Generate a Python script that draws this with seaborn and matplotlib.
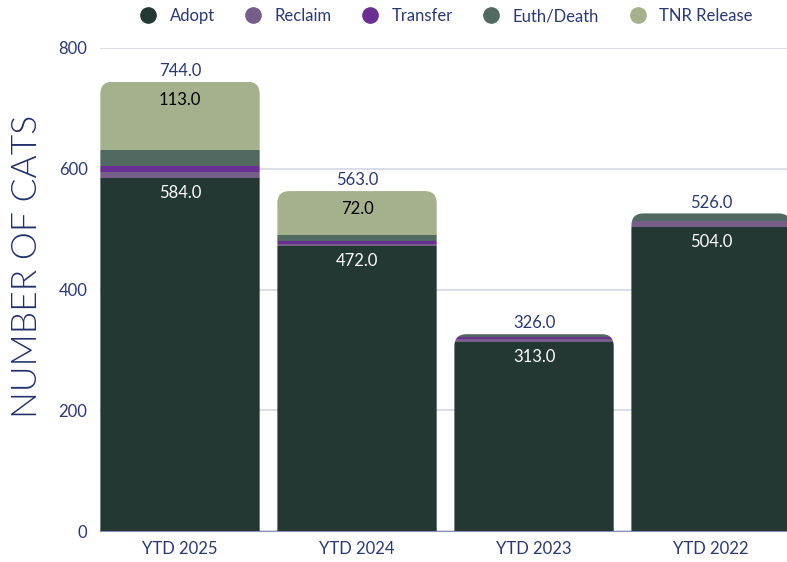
import matplotlib
matplotlib.use("Agg")
import matplotlib.pyplot as plt
import seaborn as sns
import pandas as pd
import numpy as np
from matplotlib.patches import FancyBboxPatch
from matplotlib.lines import Line2D

categories = ["YTD 2025", "YTD 2024", "YTD 2023", "YTD 2022"]
adopt = [584, 472, 313, 504]
reclaim = [10, 4, 5, 9]
transfer = [11, 4, 3, 0]
euth_death = [26, 11, 5, 13]
tnr_release = [113, 72, 0, 0]

series_names = ["Adopt", "Reclaim", "Transfer", "Euth/Death", "TNR Release"]
series_values = [adopt, reclaim, transfer, euth_death, tnr_release]
series_colors = ["#233833", "#755f88", "#6a2f92", "#526961", "#a4b18c"]

NAVY = "#2a3970"

sns.set_theme(style="white")
plt.rcParams["font.family"] = ["Lato", "DejaVu Sans"]

fig = plt.figure(figsize=(7.87, 5.62), dpi=100)
ax = fig.add_axes([100 / 787, 1 - 531 / 562, 687 / 787, (531 - 48) / 562])

bottom = np.zeros(len(categories))
for name, vals, col in zip(series_names, series_values, series_colors):
    df = pd.DataFrame({"cat": categories, "val": vals})
    sns.barplot(data=df, x="cat", y="val", color=col, saturation=1, width=0.9,
                bottom=bottom, ax=ax, linewidth=0, edgecolor="none", zorder=3)
    bottom = bottom + np.array(vals)

totals = bottom
ax.set_xlim(-0.452, 3.429)
ax.set_ylim(0, 800)
ax.set_yticks([0, 200, 400, 600, 800])

# rounded top corners
px_x = 177.0
px_y = 483.0 / 800.0
r = 12 / px_x
aspect = (1 / px_y) / (1 / px_x)
clips = []
for i, t in enumerate(totals):
    clip = FancyBboxPatch((i - 0.45, -60), 0.9, t + 60,
                          boxstyle=f"round,pad=0,rounding_size={r}",
                          mutation_aspect=aspect, transform=ax.transData,
                          facecolor="none", edgecolor="none")
    clips.append(clip)
for cont in ax.containers:
    for i, bar in enumerate(cont):
        bar.set_clip_path(clips[i])

# labels
for i, t in enumerate(totals):
    ax.annotate(f"{t:.1f}", (i, t), xytext=(0, 2), textcoords="offset points",
                ha="center", va="bottom", color=NAVY, fontsize=12, zorder=5)
    ax.annotate(f"{adopt[i]:.1f}", (i, adopt[i]), xytext=(0, -5), textcoords="offset points",
                ha="center", va="top", color="white", fontsize=12, zorder=5)
    if tnr_release[i] > 0:
        ax.annotate(f"{tnr_release[i]:.1f}", (i, t), xytext=(0, -7), textcoords="offset points",
                    ha="center", va="top", color="black", fontsize=12, zorder=5)

ax.grid(axis="y", color="#d3d5e4", linewidth=1.2, zorder=0)
ax.grid(axis="x", visible=False)
for s in ["top", "right", "left"]:
    ax.spines[s].set_visible(False)
ax.spines["bottom"].set_color("#8a93b5")
ax.spines["bottom"].set_linewidth(0.8)
ax.spines["bottom"].set_zorder(2)
ax.tick_params(axis="both", length=0, colors=NAVY, labelsize=12)
ax.tick_params(axis="y", pad=9)
ax.tick_params(axis="x", pad=7)
ax.set_xlabel("")
ax.set_ylabel("NUMBER OF CATS", color="#22306a", fontsize=25.5, fontweight=300)
ax.yaxis.set_label_coords((27 - 100) / 687, (531 - 266) / 483)
ax.yaxis.label.set_va("center")

handles = [Line2D([], [], marker="o", linestyle="none", markersize=11,
                  markerfacecolor=c, markeredgecolor=c) for c in series_colors]
fig.legend(handles, series_names, loc="center", bbox_to_anchor=(442 / 787, 1 - 16 / 562),
           ncol=5, frameon=False, fontsize=12, labelcolor=NAVY,
           handletextpad=0.3, columnspacing=1.3, borderaxespad=0)

fig.savefig("out.png", dpi=100)
